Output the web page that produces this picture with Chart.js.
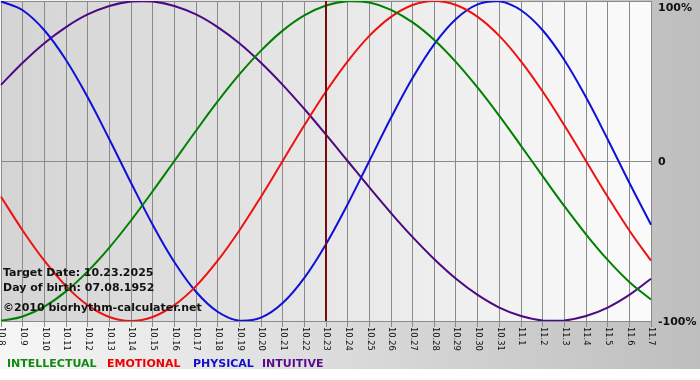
<!DOCTYPE html>
<html>
<head>
<meta charset="utf-8">
<script src="https://cdn.jsdelivr.net/npm/chart.js@4/dist/chart.umd.min.js"></script>
<style>
html,body{margin:0;padding:0;background:#fff;}
#wrap{width:700px;height:380px;position:relative;}
</style>
</head>
<body>
<div id="wrap"><canvas id="c" width="700" height="380"></canvas></div>
<script>
// ---- data ----
const days = ['10.8','10.9','10.10','10.11','10.12','10.13','10.14','10.15','10.16','10.17','10.18','10.19','10.20','10.21','10.22','10.23','10.24','10.25','10.26','10.27','10.28','10.29','10.30','10.31','11.1','11.2','11.3','11.4','11.5','11.6','11.7'];
const intellectual = [-99.9,-97.2,-91.0,-81.5,-69.0,-54.1,-37.2,-18.9,0,18.9,37.2,54.1,69.0,81.5,91.0,97.2,99.9,99.0,94.5,86.6,75.6,61.8,45.8,28.2,9.5,-9.5,-28.2,-45.8,-61.8,-75.6,-86.6];
const emotional = [-22.3,-43.4,-62.3,-78.2,-90.1,-97.5,-100,-97.5,-90.1,-78.2,-62.3,-43.4,-22.3,0,22.3,43.4,62.3,78.2,90.1,97.5,100,97.5,90.1,78.2,62.3,43.4,22.3,0,-22.3,-43.4,-62.3];
const physical = [99.8,94.2,81.7,63.1,39.8,13.6,-13.6,-39.8,-63.1,-81.7,-94.2,-99.8,-97.9,-88.8,-73.1,-52.0,-27.0,0,27.0,52.0,73.1,88.8,97.9,99.8,94.2,81.7,63.1,39.8,13.6,-13.6,-39.8];
const intuitive = [47.6,61.4,73.6,83.7,91.6,96.9,99.7,99.7,96.9,91.6,83.7,73.6,61.4,47.6,32.5,16.5,0,-16.5,-32.5,-47.6,-61.4,-73.6,-83.7,-91.6,-96.9,-99.7,-99.7,-96.9,-91.6,-83.7,-73.6];
const seriesNames = ['INTELLECTUAL','EMOTIONAL','PHYSICAL','INTUITIVE'];
const yTicks = [100, 0, -100];
const yTickLabels = ['100%', '0', '-100%'];
const targetDay = '10.23';
const targetDate = '10.23.2025';
const birthDate = '07.08.1952';
const credit = '\u00a92010 biorhythm-calculater.net';

// ---- styles ----
const lineColors = ['#008000', '#ee1111', '#1010d8', '#4b0a82'];
const legendColors = ['#118811', '#ee0000', '#1111cc', '#5a0a8c'];
const legendX = [7, 107, 193, 262];
const BOLD = 'bold 11px "DejaVu Sans", Verdana, sans-serif';

const bgPlugin = {
  id: 'bg',
  beforeDraw(chart) {
    const ctx = chart.ctx, a = chart.chartArea;
    ctx.save();
    ctx.fillStyle = '#ffffff';
    ctx.fillRect(0, 0, chart.width, chart.height);
    let g = ctx.createLinearGradient(0, 0, chart.width, 0);
    g.addColorStop(0, '#f6f6f6');
    g.addColorStop(1, '#bebebe');
    ctx.fillStyle = g;
    ctx.fillRect(0, 0, chart.width, 369);
    g = ctx.createLinearGradient(a.left, 0, a.right, 0);
    g.addColorStop(0, '#d4d4d4');
    g.addColorStop(1, '#fbfbfb');
    ctx.fillStyle = g;
    ctx.fillRect(a.left, a.top, a.right - a.left, a.bottom - a.top);
    ctx.restore();
  }
};

const overlayPlugin = {
  id: 'overlay',
  afterDatasetsDraw(chart) {
    const ctx = chart.ctx, a = chart.chartArea;
    const xs = chart.scales.x, ys = chart.scales.y;
    ctx.save();
    // target date line
    const tx = Math.round(xs.getPixelForValue(days.indexOf(targetDay)));
    ctx.strokeStyle = '#7a0a0a';
    ctx.lineWidth = 2;
    ctx.beginPath();
    ctx.moveTo(tx, a.top);
    ctx.lineTo(tx, a.bottom);
    ctx.stroke();
    // annotations
    ctx.fillStyle = '#111';
    ctx.font = BOLD;
    ctx.textAlign = 'left';
    ctx.textBaseline = 'alphabetic';
    ctx.fillText('Target Date: ' + targetDate, 3, 276);
    ctx.fillText('Day of birth: ' + birthDate, 3, 291);
    ctx.fillText(credit, 3, 311);
    ctx.restore();
  },
  afterDraw(chart) {
    const ctx = chart.ctx, a = chart.chartArea;
    const xs = chart.scales.x, ys = chart.scales.y;
    ctx.save();
    // x tick labels, rotated to read downward
    ctx.fillStyle = '#111';
    ctx.font = '8.3px "DejaVu Sans", Verdana, sans-serif';
    ctx.textAlign = 'left';
    ctx.textBaseline = 'middle';
    days.forEach((d, i) => {
      const x = xs.getPixelForTick(i);
      ctx.save();
      ctx.translate(x + 0.5, a.bottom + 6);
      ctx.rotate(Math.PI / 2);
      ctx.fillText(d, 0, 0);
      ctx.restore();
    });
    // y tick labels
    ctx.font = BOLD;
    ctx.textBaseline = 'middle';
    yTicks.forEach((v, i) => {
      let y = ys.getPixelForValue(v);
      y = Math.max(y, a.top + 6) + 1;
      ctx.fillText(yTickLabels[i], 658, y);
    });
    // legend
    seriesNames.forEach((n, i) => {
      ctx.fillStyle = legendColors[i];
      ctx.textBaseline = 'alphabetic';
      ctx.fillText(n, legendX[i], 367);
    });
    ctx.restore();
  }
};

const series = [intellectual, emotional, physical, intuitive];
new Chart(document.getElementById('c'), {
  type: 'line',
  data: {
    labels: days,
    datasets: series.map((s, i) => ({
      label: seriesNames[i],
      data: s,
      borderColor: lineColors[i],
      borderWidth: 2,
      pointRadius: 0,
      tension: 0.4,
      fill: false
    }))
  },
  options: {
    responsive: false,
    animation: false,
    devicePixelRatio: 1,
    layout: { padding: { left: 1, top: 1, right: 0, bottom: 0 } },
    plugins: { legend: { display: false }, tooltip: { enabled: false } },
    scales: {
      x: {
        offset: false,
        grid: { color: '#8a8a8a', lineWidth: 1, tickLength: 6, drawOnChartArea: true },
        border: { color: '#8a8a8a' },
        ticks: { display: false, autoSkip: false },
        afterFit: s => { s.height = 59; }
      },
      y: {
        position: 'right',
        min: -100, max: 100,
        afterBuildTicks: s => { s.ticks = yTicks.map(v => ({ value: v })); },
        grid: { color: '#8a8a8a', lineWidth: 1, drawTicks: false },
        border: { display: false },
        ticks: { display: false },
        afterFit: s => { s.width = 49; }
      }
    }
  },
  plugins: [bgPlugin, overlayPlugin]
});
</script>
</body>
</html>
